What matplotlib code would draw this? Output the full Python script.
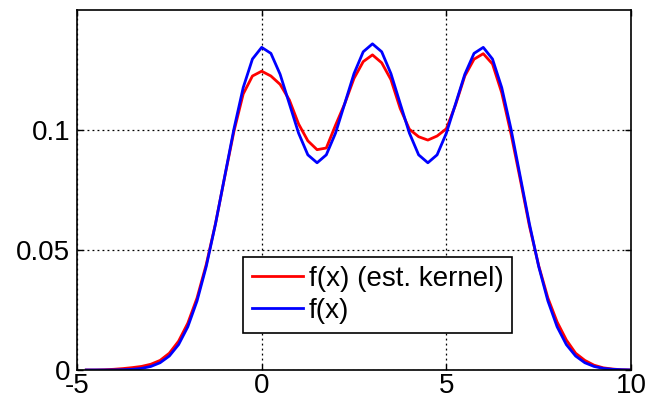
import matplotlib
matplotlib.use("Agg")
import matplotlib.pyplot as plt
import numpy as np

x = [-4.75, -4.5, -4.25, -4.0, -3.75, -3.5, -3.25, -3.0, -2.75, -2.5, -2.25, -2.0,
     -1.75, -1.5, -1.25, -1.0, -0.75, -0.5, -0.25, 0.0, 0.25, 0.5, 0.75, 1.0,
     1.25, 1.5, 1.75, 2.0, 2.25, 2.5, 2.75, 3.0, 3.25, 3.5, 3.75, 4.0,
     4.25, 4.5, 4.75, 5.0, 5.25, 5.5, 5.75, 6.0, 6.25, 6.5, 6.75, 7.0,
     7.25, 7.5, 7.75, 8.0, 8.25, 8.5, 8.75, 9.0, 9.25, 9.5, 9.75, 10.0]

f_est = [0.0000, 0.0000, 0.0001, 0.0003, 0.0006, 0.0010, 0.0015, 0.0024, 0.0040, 0.0070, 0.0120, 0.0195,
         0.0300, 0.0440, 0.0610, 0.0805, 0.0995, 0.1150, 0.1225, 0.1245, 0.1225, 0.1190, 0.1125, 0.1025,
         0.0955, 0.0918, 0.0925, 0.1020, 0.1110, 0.1215, 0.1285, 0.1313, 0.1280, 0.1210, 0.1090, 0.1003,
         0.0972, 0.0958, 0.0975, 0.1005, 0.1105, 0.1225, 0.1295, 0.1318, 0.1275, 0.1155, 0.0985, 0.0795,
         0.0600, 0.0435, 0.0300, 0.0200, 0.0125, 0.0070, 0.0040, 0.0020, 0.0009, 0.0004, 0.0001, 0.0000]

f_true = [0.00000, 0.00001, 0.00002, 0.00004, 0.00012, 0.00029, 0.00067, 0.00148, 0.00303, 0.00583, 0.01057, 0.01800,
          0.02877, 0.04317, 0.06088, 0.08071, 0.10048, 0.11766, 0.12957, 0.13443, 0.13193, 0.12320, 0.11093, 0.09867,
          0.08965, 0.08634, 0.08965, 0.09871, 0.11105, 0.12349, 0.13260, 0.13590, 0.13260, 0.12349, 0.11105, 0.09871,
          0.08965, 0.08634, 0.08965, 0.09867, 0.11093, 0.12320, 0.13193, 0.13443, 0.12957, 0.11766, 0.10048, 0.08071,
          0.06088, 0.04317, 0.02877, 0.01800, 0.01057, 0.00583, 0.00303, 0.00148, 0.00067, 0.00029, 0.00012, 0.00004]

labels = ["f(x) (est. kernel)", "f(x)"]
xticks = [-5, 0, 5, 10]
yticks = [0, 0.05, 0.1]
ytick_labels = ["0", "0.05", "0.1"]

plt.rcParams['font.family'] = ['Liberation Sans', 'DejaVu Sans']

fig = plt.figure(figsize=(6.45, 3.98), dpi=100)
ax = fig.add_axes([77/645, 28/398, 554/645, 360/398])

ax.plot(x, f_est, color='#ff0000', lw=2, label=labels[0])
ax.plot(x, f_true, color='#0000ff', lw=2, label=labels[1])

ax.set_xlim(-5, 10)
ax.set_ylim(0, 0.15)
ax.set_xticks(xticks)
ax.set_xticklabels([str(t) for t in xticks])
ax.set_yticks(yticks)
ax.set_yticklabels(ytick_labels)
ax.grid(True, color='black', linestyle=(0, (1.5, 2.5)), linewidth=0.9)
ax.tick_params(direction='in', length=4, width=1, top=True, right=True,
               labelsize=20, colors='black')
ax.tick_params(axis='x', pad=2.5)
ax.tick_params(axis='y', pad=5)
for s in ax.spines.values():
    s.set_linewidth(1.2)
    s.set_color('black')

leg = ax.legend(loc='lower left', bbox_to_anchor=((243-77)/554, (370-333)/360),
                borderaxespad=0, fancybox=False, framealpha=1, edgecolor='black',
                fontsize=20, handlelength=1.85, handletextpad=0.2,
                labelspacing=0.22, borderpad=0.32)
leg.get_frame().set_linewidth(1.2)

fig.savefig("out.png", dpi=100)
